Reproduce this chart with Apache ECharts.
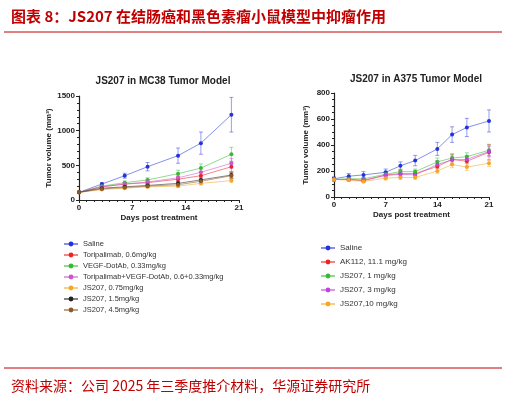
<!DOCTYPE html><html><head><meta charset="utf-8"><script src="https://cdn.jsdelivr.net/npm/echarts@6/dist/echarts.min.js"></script>
<style>body{margin:0}#c{width:506px;height:400px}</style></head><body><div id="c"></div><script>
const daysL=[0,3,6,9,13,16,20];
const namesL=['Saline','Toripalimab, 0.6mg/kg','VEGF-DotAb, 0.33mg/kg','Toripalimab+VEGF-DotAb, 0.6+0.33mg/kg','JS207, 0.75mg/kg','JS207, 1.5mg/kg','JS207, 4.5mg/kg'];
const colorsL=['#2233dd','#ee2222','#33bb33','#cc55cc','#f5a623','#222222','#8b5a2b'];
const valsL=[[110,230,350,480,640,820,1230],[110,190,230,250,300,350,480],[110,200,250,290,380,460,660],[110,190,230,260,320,400,530],[110,150,170,190,200,240,280],[110,170,190,210,240,290,360],[110,160,180,200,220,270,350]];
const errL=[[10,20,35,60,110,160,250],[10,15,20,25,40,50,70],[10,20,25,30,50,60,100],[10,15,20,25,40,50,70],[10,10,15,15,20,25,30],[10,15,15,20,25,30,40],[10,10,15,20,20,30,40]];
const daysR=[0,2,4,7,9,11,14,16,18,21];
const namesR=['Saline','AK112, 11.1 mg/kg','JS207, 1 mg/kg','JS207, 3 mg/kg','JS207,10 mg/kg'];
const colorsR=['#2233dd','#ee2222','#33bb33','#bb44dd','#f5a623'];
const valsR=[[140,160,170,190,240,280,370,480,535,585],[135,135,125,170,180,180,235,290,275,345],[135,140,140,175,195,195,270,300,310,360],[135,135,130,165,175,170,250,285,290,350],[135,130,120,145,150,150,200,250,230,260]];
const errR=[[15,20,25,25,30,40,50,60,70,85],[10,10,10,20,25,25,40,40,40,60],[10,10,10,20,20,20,30,30,30,40],[10,10,10,20,20,20,30,30,30,40],[10,10,10,15,15,15,20,25,25,25]];
const series=[];
function add(days,vals,errs,names,colors,gi){
 vals.forEach((v,i)=>{
  series.push({type:'line',name:names[i],xAxisIndex:gi,yAxisIndex:gi,data:days.map((d,j)=>[d,v[j]]),color:colors[i],symbol:'circle',symbolSize:4,lineStyle:{width:1,opacity:0.55},z:3});
  series.push({type:'custom',xAxisIndex:gi,yAxisIndex:gi,silent:true,z:2,data:days.map((d,j)=>[d,v[j]-errs[i][j],v[j]+errs[i][j]]),
   renderItem:(p,api)=>{const a=api.coord([api.value(0),api.value(1)]),b=api.coord([api.value(0),api.value(2)]);
    const s={stroke:colors[i],lineWidth:0.8,opacity:0.6};
    return {type:'group',children:[{type:'line',shape:{x1:a[0],y1:a[1],x2:b[0],y2:b[1]},style:s},{type:'line',shape:{x1:a[0]-2,y1:a[1],x2:a[0]+2,y2:a[1]},style:s},{type:'line',shape:{x1:b[0]-2,y1:b[1],x2:b[0]+2,y2:b[1]},style:s}]};}});
 });
}
add(daysL,valsL,errL,namesL,colorsL,0);
add(daysR,valsR,errR,namesR,colorsR,1);
const ax={axisLine:{show:true,lineStyle:{color:'#222',width:1.2}},axisTick:{show:true,length:3,lineStyle:{color:'#222'}},splitLine:{show:false},axisLabel:{color:'#222',fontSize:8,fontWeight:'bold',margin:4,formatter:v=>String(v)},nameTextStyle:{color:'#222',fontSize:8,fontWeight:'bold'}};
const f='Liberation Sans, Arial';
const opt={textStyle:{fontFamily:f},animation:false,
title:[{text:'图表 8：JS207 在结肠癌和黑色素瘤小鼠模型中抑瘤作用',left:6,top:4,textStyle:{color:'#c00000',fontSize:15,fontWeight:'bold',fontFamily:'Noto Sans CJK SC'}},
 {text:'JS207 in MC38 Tumor Model',left:158,top:71,textAlign:'center',textStyle:{fontSize:10,fontWeight:'bold',color:'#222'}},
 {text:'JS207 in A375 Tumor Model',left:411,top:69,textAlign:'center',textStyle:{fontSize:10,fontWeight:'bold',color:'#222'}},
 {text:'资料来源：公司 2025 年三季度推介材料，华源证券研究所',left:6,top:374,textStyle:{color:'#c00000',fontSize:14,fontWeight:'normal',fontFamily:'Noto Sans CJK SC'}}],
grid:[{left:79,width:160,top:96,height:104},{left:334,width:155,top:93,height:104}],
xAxis:[Object.assign({},ax,{gridIndex:0,type:'value',min:0,max:21,interval:7,name:'Days post treatment',nameLocation:'middle',nameGap:14,minorTick:{show:true,splitNumber:7,length:2}}),
 Object.assign({},ax,{gridIndex:1,type:'value',min:0,max:21,interval:7,name:'Days post treatment',nameLocation:'middle',nameGap:14,minorTick:{show:true,splitNumber:7,length:2}})],
yAxis:[Object.assign({},ax,{gridIndex:0,type:'value',min:0,max:1500,interval:500,name:'Tumor volume (mm³)',nameLocation:'middle',nameGap:26,minorTick:{show:true,splitNumber:5,length:2}}),
 Object.assign({},ax,{gridIndex:1,type:'value',min:0,max:800,interval:200,name:'Tumor volume (mm³)',nameLocation:'middle',nameGap:24,minorTick:{show:true,splitNumber:4,length:2}})],
legend:[{data:namesL,orient:'vertical',left:58,top:235,itemGap:3,itemWidth:14,itemHeight:6,textStyle:{fontSize:7.5,color:'#333'}},
 {data:namesR,orient:'vertical',left:315,top:239,itemGap:6,itemWidth:14,itemHeight:6,textStyle:{fontSize:8,color:'#333'}}],
graphic:[{type:'line',shape:{x1:4,y1:32,x2:502,y2:32},style:{stroke:'#c00000',lineWidth:1}},
 {type:'line',shape:{x1:4,y1:368,x2:502,y2:368},style:{stroke:'#c00000',lineWidth:1}}],
series};
echarts.init(document.getElementById('c')).setOption(opt);
</script></body></html>
